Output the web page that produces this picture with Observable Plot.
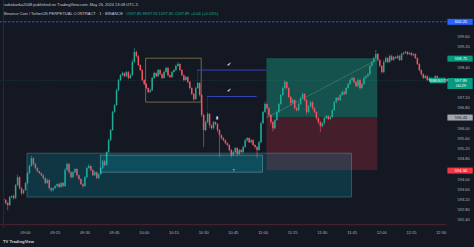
<!DOCTYPE html>
<html>
<head>
<meta charset="utf-8">
<script src="https://cdn.jsdelivr.net/npm/d3@7"></script>
<script src="https://cdn.jsdelivr.net/npm/@observablehq/plot@0.6"></script>
<style>
  html, body { margin: 0; padding: 0; background: #141823; }
  #wrap { position: relative; width: 474px; height: 247px; overflow: hidden;
          font-family: "Liberation Sans", Arial, sans-serif; background: #141823; }
  .hdr { position: absolute; left: 4px; white-space: nowrap; font-size: 4px; color: #c9ccd4; line-height: 5px; }
  .ohlc { color: #22ab94; }
  .edge { position: absolute; left: 3px; top: 0; width: 1px; height: 228px; background: #262a36; }
  .brand { position: absolute; left: 3px; top: 239px; font-size: 4.2px; color: #d1d4dc; font-weight: bold; white-space: nowrap; }
</style>
</head>
<body>
<div id="wrap"></div>
<script>
// BNBUSDT.P perpetual, 1-minute candles, 26 May 2024 (08:49 → 12:30)
const firstOpen = 593.20;
const closes = [
  593.16, 593.04, 592.96, 593.28, 593.32, 593.24, 593.75, 594.06, 593.63, 593.43,
  593.55, 593.83, 594.22, 594.50, 594.81, 594.58, 594.42, 594.30, 594.22, 594.14,
  594.03, 593.83, 593.95, 593.63, 593.55, 593.63, 593.71, 593.79, 593.67, 593.83,
  593.71, 594.34, 594.58, 594.26, 594.06, 594.26, 594.38, 594.14, 593.99, 593.79,
  593.71, 594.06, 594.42, 594.50, 594.34, 594.14, 594.26, 594.03, 594.18, 594.42,
  594.69, 594.54, 595.05, 595.52, 595.92, 596.63, 596.90, 597.49, 597.89, 598.08,
  598.16, 598.04, 598.20, 597.97, 598.08, 598.60, 598.99, 598.83, 598.48, 598.28,
  597.89, 597.73, 597.57, 597.42, 597.49, 597.97, 598.16, 598.04, 598.28, 598.12,
  597.97, 598.20, 598.36, 598.08, 598.01, 598.20, 598.28, 598.44, 598.52, 598.28,
  598.08, 597.89, 598.01, 597.81, 597.57, 597.34, 597.14, 597.57, 597.77, 597.30,
  596.51, 595.92, 596.23, 596.55, 596.11, 595.99, 596.23, 596.15, 595.92, 595.72,
  595.60, 595.52, 595.40, 595.33, 595.13, 594.93, 595.05, 595.21, 594.97, 595.13,
  595.05, 595.25, 595.52, 595.60, 595.44, 595.52, 595.33, 595.25, 595.13, 595.44,
  596.19, 596.63, 596.94, 596.78, 596.51, 596.23, 595.99, 596.31, 596.63, 596.94,
  597.30, 597.57, 597.81, 597.57, 597.22, 596.98, 597.10, 596.78, 596.70, 596.94,
  597.18, 597.34, 597.10, 596.63, 596.86, 597.02, 596.78, 596.63, 596.39, 596.23,
  596.07, 596.19, 596.39, 596.47, 596.35, 596.43, 596.70, 597.02, 597.18, 597.10,
  597.30, 597.42, 597.34, 597.57, 597.73, 597.89, 597.97, 597.81, 597.65, 597.89,
  597.57, 597.73, 597.97, 598.04, 598.12, 598.44, 598.60, 598.75, 598.91, 598.68,
  598.44, 598.20, 598.60, 598.75, 598.60, 598.83, 598.68, 598.79, 598.75, 598.83,
  598.68, 598.91, 598.95, 598.99, 598.91, 598.95, 598.87, 598.91, 598.75, 598.52,
  598.28, 598.12, 597.97, 598.04, 597.89, 597.97, 597.81, 597.93, 598.04, 597.89,
  597.85, 597.89
];
// wick length above / below the body, in cents
const wickUp = [
  4,3,5,4,3,6,4,10,3,4,  3,5,4,6,10,3,4,3,2,3,  4,3,6,3,4,3,4,3,5,3,
  4,8,6,3,4,5,3,4,2,3,   4,5,6,8,3,4,5,3,4,3,   5,4,3,6,4,5,4,6,5,4,
  6,3,5,4,6,10,16,6,4,3, 4,3,4,3,6,5,6,3,5,4,   3,6,5,4,3,5,4,6,8,3,
  4,3,5,3,4,3,4,6,5,3,   4,5,6,8,4,3,5,3,4,3,   3,4,3,4,3,5,6,4,3,5,
  4,6,5,4,3,5,4,3,4,6,   6,5,10,4,3,4,3,5,6,4,  5,6,10,4,3,4,5,3,4,5,
  6,5,3,4,5,6,3,4,3,3,   4,5,6,4,3,5,6,5,4,5,   4,6,5,4,5,6,5,3,4,6,
  3,5,6,4,5,6,5,6,16,4,  3,4,8,6,4,6,5,4,5,6,   4,5,6,6,4,5,4,3,3,3,
  4,3,3,5,4,5,3,4,5,3,   4,3
];
const wickDown = [
  5,6,20,4,5,6,3,4,6,8,  4,3,5,4,3,6,4,5,3,4,   6,5,3,6,8,4,3,5,4,3,
  5,4,3,6,5,3,4,5,6,4,   6,3,4,3,5,4,3,5,4,3,   4,6,3,5,4,3,4,3,4,5,
  4,5,3,5,4,3,4,6,5,4,   6,5,4,6,4,3,4,5,3,4,   5,3,4,6,5,4,3,4,3,5,
  4,6,3,5,6,5,8,4,3,6,   8,67,5,4,10,6,4,5,8,87, 6,5,4,5,6,10,4,5,8,4,
  6,4,3,6,4,5,4,6,32,4,  4,3,5,4,6,10,12,4,3,5, 4,3,5,6,5,8,4,6,5,4,
  3,4,6,10,4,5,6,4,6,8,  23,5,6,4,5,3,4,3,5,4,  3,4,5,3,4,4,3,6,5,4,
  6,4,3,4,3,4,3,3,4,6,   5,6,4,3,5,4,3,4,3,4,   5,4,3,3,4,3,4,5,3,4,
  5,6,4,3,5,4,6,3,4,5,   3,4
];

// axis
const timeTickLabels = ["09:00","09:15","09:30","09:45","10:00","10:15","10:30","10:45",
                        "11:00","11:15","11:30","11:45","12:00","12:15","12:30"];
const priceTickValues = [592.4, 592.8, 593.2, 593.6, 594.0, 594.4, 594.8, 595.2, 595.6, 596.0,
                         596.4, 596.8, 597.2, 597.6, 598.0, 598.4, 598.8, 599.2, 599.6, 600.0];
const viewStart = "08:47:22", viewEnd = "12:33:13";
const priceLow = 592.06, priceHigh = 601.04;

// drawings
const demandZone = ["09:01", "11:45", 593.28, 595.01];
const retestZone = ["09:38", "11:00", 594.26, 594.93];
const rangeBox   = ["10:01", "10:29", 597.02, 598.75];
const levelLines = [["10:27", "11:02", 598.30, 597.85], ["10:32", "10:57", 597.26, 596.67]];
const checkMarks = [["10:43", 598.52], ["10:43", 597.49]];
const longTrade  = { from: "11:02", to: "11:58", entry: 596.43, target: 598.75, stop: 594.34, exitAt: "11:57", exitPrice: 598.68 };
const barMarks   = [["10:37", 596.43, "▮"], ["10:45", 594.34, "⇡"]];
const alertLevel = 600.20;
const lowLevel   = 592.21;
const symbol = "BNBUSDT.P";
const countdown = "00:29";

const T = s => { const [h, m, sec = 0] = s.split(":").map(Number); return new Date(Date.UTC(2024, 4, 26, h, m, sec)); };
const t0 = T("08:49");
const candles = closes.map((c, i) => {
  const o = i ? closes[i - 1] : firstOpen;
  return { t: new Date(+t0 + i * 60000), o, c,
           h: Math.max(o, c) + wickUp[i] / 100, l: Math.min(o, c) - wickDown[i] / 100 };
});
const up = candles.filter(d => d.c >= d.o), down = candles.filter(d => d.c < d.o);
const last = candles[candles.length - 1];

const GREEN = "#22ab94", RED = "#f7525f", LEVEL = "#3546b8";
const xEnd = T(viewEnd);
const axisFrom = new Date(+xEnd + 12000), axisTo = new Date(+xEnd + 13 * 60000), axisMid = new Date(+xEnd + 6.8 * 60000);

const tags = [
  { price: alertLevel, text: alertLevel.toFixed(2), bg: "#2962ff", fg: "#ffffff" },
  { price: longTrade.target, text: longTrade.target.toFixed(2), bg: "#089981", fg: "#ffffff" },
  { price: longTrade.entry, text: longTrade.entry.toFixed(2), bg: "#a3a6af", fg: "#131722" },
  { price: longTrade.stop, text: longTrade.stop.toFixed(2), bg: "#f23645", fg: "#ffffff" }
];
const taken = [...tags.map(d => d.price), last.c - 0.12];
const shownTicks = priceTickValues.filter(v => taken.every(p => Math.abs(p - v) > 0.3));

const box = a => ({ x1: T(a[0]), x2: T(a[1]), y1: a[2], y2: a[3] });
const chart = Plot.plot({
  width: 474, height: 247,
  marginTop: 0, marginRight: 27, marginBottom: 19, marginLeft: 0,
  style: { background: "#141823", color: "#b2b5be", fontFamily: "Liberation Sans, Arial, sans-serif", overflow: "visible" },
  x: { type: "utc", domain: [T(viewStart), xEnd] },
  y: { domain: [priceLow, priceHigh] },
  marks: [
    Plot.ruleY([alertLevel], { stroke: "#4e5cd6", strokeWidth: 0.8, strokeDasharray: "2.5,1.5" }),
    Plot.ruleY([lowLevel], { stroke: "#5a2a36", strokeWidth: 0.8 }),
    Plot.ruleY([last.c], { stroke: GREEN, strokeOpacity: 0.4, strokeWidth: 0.6, strokeDasharray: "1,1.5" }),
    // long position tool
    Plot.rect([longTrade], { x1: d => T(d.from), x2: d => T(d.to), y1: "entry", y2: "target", fill: "#169a80", fillOpacity: 0.45 }),
    Plot.rect([longTrade], { x1: d => T(d.from), x2: d => T(d.to), y1: "stop", y2: "entry", fill: "#f23645", fillOpacity: 0.22 }),
    Plot.line([[T(longTrade.from), longTrade.entry], [T(longTrade.exitAt), longTrade.exitPrice]],
              { stroke: "#c8ccd6", strokeOpacity: 0.5, strokeWidth: 0.6, strokeDasharray: "1,1.5" }),
    // candles
    Plot.ruleX(up,   { x: "t", y1: "l", y2: "h", stroke: GREEN, strokeWidth: 0.6 }),
    Plot.ruleX(down, { x: "t", y1: "l", y2: "h", stroke: RED, strokeWidth: 0.6 }),
    Plot.ruleX(up,   { x: "t", y1: "o", y2: "c", stroke: GREEN, strokeWidth: 1.5 }),
    Plot.ruleX(down, { x: "t", y1: "o", y2: "c", stroke: RED, strokeWidth: 1.5 }),
    // zones
    Plot.rect([box(demandZone)], { x1: "x1", x2: "x2", y1: "y1", y2: "y2", fill: "#00acc1", fillOpacity: 0.2, stroke: "#7fc4cf", strokeOpacity: 0.5, strokeWidth: 0.6 }),
    Plot.rect([box(retestZone)], { x1: "x1", x2: "x2", y1: "y1", y2: "y2", fill: "#00bcd4", fillOpacity: 0.18, stroke: "#a6e3ec", strokeOpacity: 0.55, strokeWidth: 0.6 }),
    Plot.rect([box(rangeBox)], { x1: "x1", x2: "x2", y1: "y1", y2: "y2", fill: "none", stroke: "#9a8652", strokeWidth: 0.7 }),
    Plot.ruleY(levelLines, { x1: d => T(d[0]), x2: d => T(d[1]), y: d => d[2], stroke: LEVEL, strokeWidth: 1 }),
    Plot.ruleX(levelLines, { x: d => T(d[0]), y1: d => d[2], y2: d => d[3], stroke: LEVEL, strokeWidth: 0.6, strokeOpacity: 0.7 }),
    Plot.text(checkMarks, { x: d => T(d[0]), y: d => d[1], text: () => "✔", fill: "#e8eaf0", fontSize: 4.5 }),
    Plot.text(barMarks, { x: d => T(d[0]), y: d => d[1], text: d => d[2], fill: "#e8eaf0", fontSize: 4 }),
    // axes
    Plot.axisX(timeTickLabels.map(T), { anchor: "bottom", tickSize: 0, tickPadding: 3, fontSize: 4, fill: "#b2b5be", tickFormat: d3.utcFormat("%H:%M"), label: null }),
    Plot.axisY(shownTicks, { anchor: "right", tickSize: 0, tickPadding: 10, fontSize: 4, fill: "#b2b5be", tickFormat: d => d.toFixed(2), label: null }),
    // price tags on the scale
    Plot.ruleY(tags, { y: "price", x1: axisFrom, x2: axisTo, stroke: d => d.bg, strokeWidth: 6 }),
    Plot.text(tags, { y: "price", x: axisMid, text: "text", fill: d => d.fg, fontSize: 4 }),
    Plot.ruleY([last.c - 0.12], { x1: axisFrom, x2: axisTo, stroke: "#089981", strokeWidth: 11 }),
    Plot.text([last], { y: "c", x: axisMid, text: d => d.c.toFixed(2), fill: "#ffffff", fontSize: 4 }),
    Plot.text([last], { y: "c", x: axisMid, dy: 5, text: () => countdown, fill: "#ffffff", fontSize: 4 }),
    Plot.ruleY([last.c], { x1: T("12:24:36"), x2: T("12:32:42"), stroke: "#089981", strokeWidth: 5.5 }),
    Plot.text([last], { y: "c", x: T("12:28:39"), text: () => symbol, fill: "#ffffff", fontSize: 3.4 })
  ]
});

const wrap = document.getElementById("wrap");
wrap.appendChild(chart);
const chg = last.c - last.o;
const sign = chg >= 0 ? "+" : "−";
wrap.insertAdjacentHTML("beforeend", `
  <div class="edge"></div>
  <div class="hdr" style="top:2px">sabakanka2048 published on TradingView.com, May 26, 2024 13:08 UTC-5</div>
  <div class="hdr" style="top:11px">Binance Coin / TetherUS PERPETUAL CONTRACT · 1 · BINANCE &nbsp;
    <span class="ohlc">O${last.o.toFixed(2)} H${last.h.toFixed(2)} L${last.l.toFixed(2)} C${last.c.toFixed(2)} ${sign}${Math.abs(chg).toFixed(2)} (${sign}${Math.abs(chg / last.o * 100).toFixed(2)}%)</span></div>
  <div class="brand">TV TradingView</div>`);
</script>
</body>
</html>
